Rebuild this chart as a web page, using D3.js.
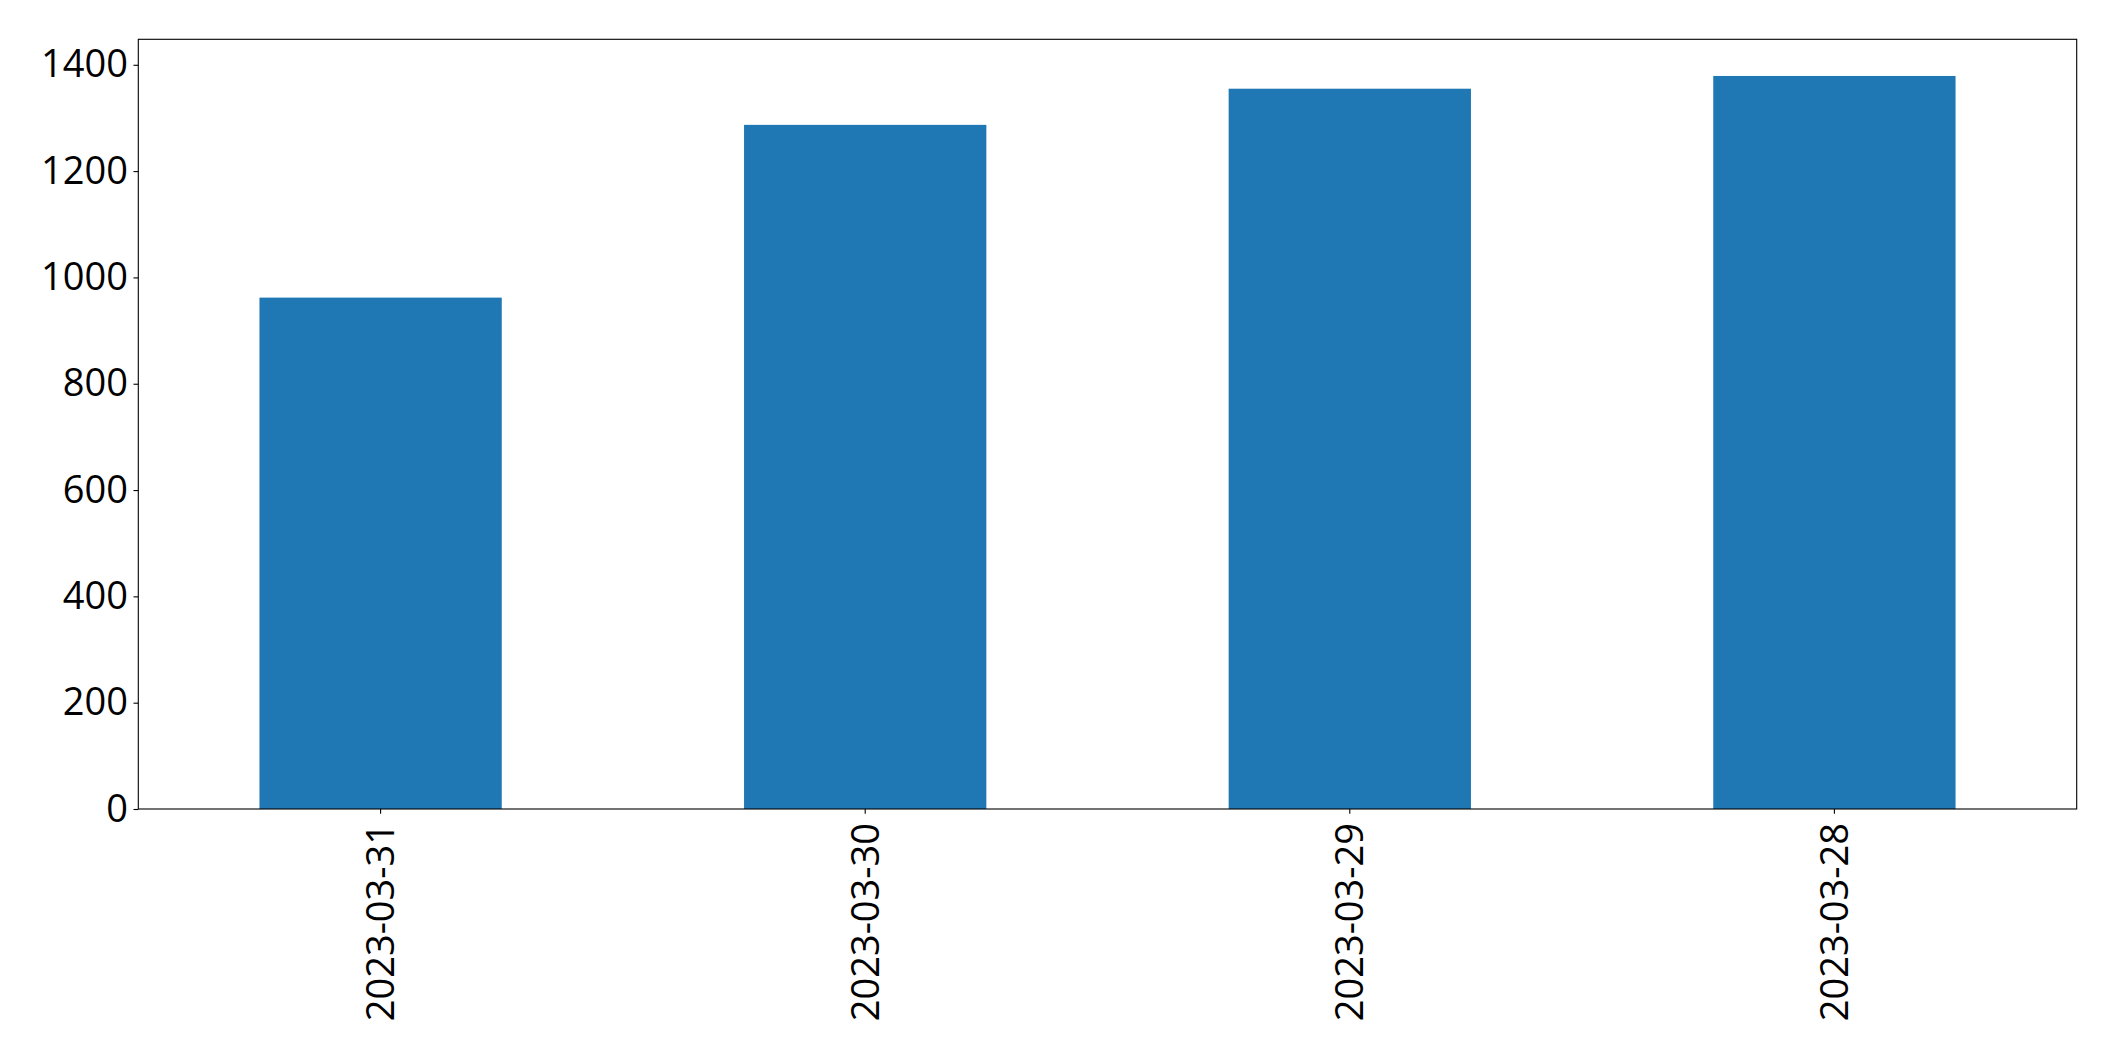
<!DOCTYPE html>
<html>
<head>
<meta charset="utf-8">
<script src="https://cdn.jsdelivr.net/npm/d3@7"></script>
<style>
html,body{margin:0;padding:0;background:#fff;}
svg{display:block;}
</style>
</head>
<body>
<svg id="chart" width="2115" height="1061"></svg>
<script>
const categories = ["2023-03-31","2023-03-30","2023-03-29","2023-03-28"];
const values = [962, 1287, 1355, 1379];
const yTicks = [0,200,400,600,800,1000,1200,1400];

const W = 2115, H = 1061;
const m = {left:138.3, right:W-2076.7, top:39.3, bottom:H-809};
const iw = W - m.left - m.right, ih = H - m.top - m.bottom;
const fs = 38;
const font = "'Open Sans', 'Noto Sans', sans-serif";

const svg = d3.select("#chart");
const g = svg.append("g").attr("transform",`translate(${m.left},${m.top})`);

const x = d3.scaleBand().domain(categories).range([0,iw]).paddingInner(0.5).paddingOuter(0.25);
const y = d3.scaleLinear().domain([0, 1379*1.05]).range([ih,0]);

g.selectAll("rect.bar").data(categories).enter().append("rect")
  .attr("class","bar")
  .attr("x",d=>x(d))
  .attr("width",x.bandwidth())
  .attr("y",(d,i)=>y(values[i]))
  .attr("height",(d,i)=>ih-y(values[i]))
  .attr("fill","#1f77b4");

const yAxis = d3.axisLeft(y).tickValues(yTicks).tickSize(4.8).tickPadding(5.5).tickFormat(d3.format("d"));
const ya = g.append("g").call(yAxis);
ya.select(".domain").remove();
ya.selectAll("line").attr("stroke","#000").attr("stroke-width",1.1);
ya.selectAll("text").attr("font-size",fs).attr("fill","#000").attr("font-family",font);

const xAxis = d3.axisBottom(x).tickSize(4.8).tickPadding(0);
const xa = g.append("g").attr("transform",`translate(0,${ih})`).call(xAxis);
xa.select(".domain").remove();
xa.selectAll("line").attr("stroke","#000").attr("stroke-width",1.1);
xa.selectAll("text")
  .attr("font-size",fs).attr("fill","#000").attr("font-family",font)
  .attr("transform","translate(0,14) rotate(-90)")
  .attr("x",0).attr("y",0).attr("dy","0.35em")
  .attr("text-anchor","end");

g.append("rect").attr("x",0).attr("y",0).attr("width",iw).attr("height",ih)
  .attr("fill","none").attr("stroke","#000").attr("stroke-width",1.1);
</script>
</body>
</html>
